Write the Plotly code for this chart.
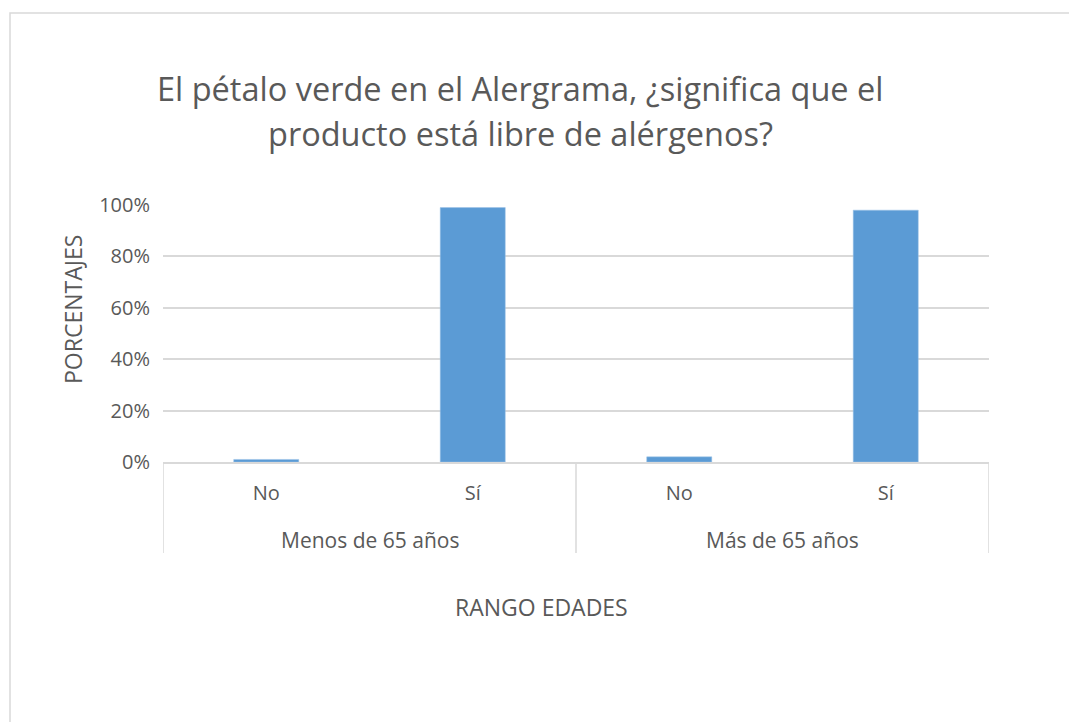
import plotly.graph_objects as go

groups = ["Menos de 65 años", "Más de 65 años"]
answers = ["No", "Sí", "No", "Sí"]
values = [0.01, 0.99, 0.02, 0.98]
y_ticks = [0, 0.2, 0.4, 0.6, 0.8, 1.0]
y_labels = ["0%", "20%", "40%", "60%", "80%", "100%"]
title_lines = ["El pétalo verde en el Alergrama, ¿significa que el",
               "producto está libre de alérgenos?"]

FONT = "Open Sans"
GRAY = "#595959"
LINE = "#D9D9D9"

# plot area geometry (pixels)
L, R, T, B = 163, 989, 205, 462
PW, PH = R - L, B - T

xpos = list(range(len(answers)))

fig = go.Figure()
fig.add_trace(go.Bar(
    x=xpos,
    y=values,
    marker=dict(color="#5B9BD5", line=dict(color="#9DC3E6", width=0.5)),
    width=0.315,
    hoverinfo="skip",
))

shapes = []
n_per_group = len(answers) // len(groups)
for k in range(len(groups) + 1):
    xd = k * n_per_group - 0.5
    shapes.append(dict(type="line", xref="x", yref="paper", x0=xd, x1=xd,
                       y0=0, y1=-(553 - B) / PH, line=dict(color=LINE, width=1.5)))
shapes.append(dict(type="rect", xref="paper", yref="paper",
                   x0=(10 - L) / PW, x1=(1080 - L) / PW, y0=-3.0, y1=(B - 13) / PH,
                   line=dict(color=LINE, width=1.5), fillcolor="rgba(0,0,0,0)", layer="below"))

annotations = []
for i, (line, ypx) in enumerate(zip(title_lines, [88, 133])):
    annotations.append(dict(text=line, xref="paper", yref="paper",
                            x=(520 - L) / PW, y=(B - ypx) / PH,
                            xanchor="center", yanchor="middle", showarrow=False,
                            font=dict(family=FONT, size=32.5, color=GRAY)))
for g, name in enumerate(groups):
    annotations.append(dict(text=name, xref="x", yref="paper",
                            x=g * n_per_group + (n_per_group - 1) / 2, y=-(540 - B) / PH,
                            xanchor="center", yanchor="middle", showarrow=False,
                            font=dict(family=FONT, size=21, color=GRAY)))
annotations.append(dict(text="PORCENTAJES", textangle=-90, xref="paper", yref="paper",
                        x=(73 - L) / PW, y=(B - 310) / PH, xanchor="center", yanchor="middle",
                        showarrow=False, font=dict(family=FONT, size=23, color=GRAY)))
annotations.append(dict(text="RANGO EDADES", xref="paper", yref="paper",
                        x=(541 - L) / PW, y=-(607 - B) / PH, xanchor="center", yanchor="middle",
                        showarrow=False, font=dict(family=FONT, size=23, color=GRAY)))

fig.update_layout(
    width=1069, height=722,
    paper_bgcolor="white", plot_bgcolor="white",
    margin=dict(l=L, r=1069 - R, t=T, b=722 - B),
    showlegend=False,
    font=dict(family=FONT, color=GRAY, size=20),
    xaxis=dict(
        range=[-0.5, len(answers) - 0.5],
        tickvals=xpos, ticktext=answers,
        showline=True, linecolor=LINE, linewidth=1.5,
        showgrid=False, zeroline=False, ticks="",
        tickfont=dict(family=FONT, size=20, color=GRAY),
        ticklabelstandoff=12,
    ),
    yaxis=dict(
        range=[0, 1], tickvals=y_ticks, ticktext=y_labels,
        showgrid=True, gridcolor=LINE, gridwidth=1.5,
        zeroline=False, showline=False, ticks="",
        tickfont=dict(family=FONT, size=20, color=GRAY),
        ticklabelstandoff=12,
    ),
    annotations=annotations,
    shapes=shapes,
)

fig.write_html("out.html", config={"displayModeBar": False},
               post_script="document.body.style.margin='0';")
